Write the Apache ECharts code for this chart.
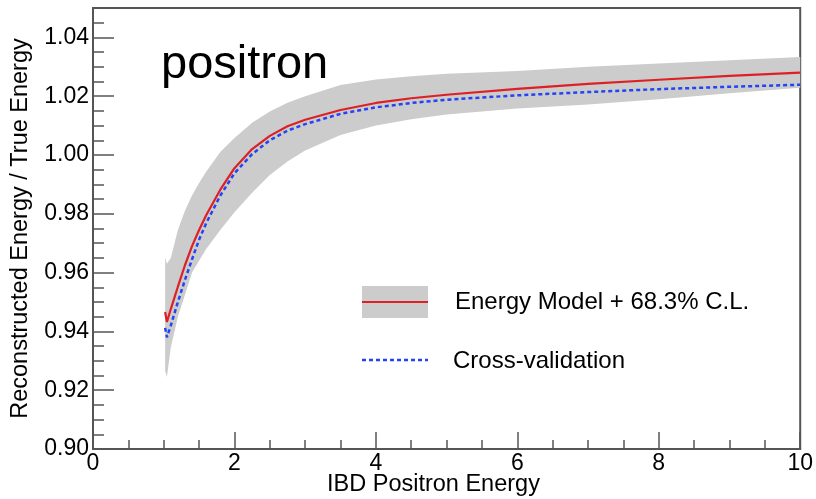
<!DOCTYPE html>
<html>
<head>
<meta charset="utf-8">
<script src="https://cdn.jsdelivr.net/npm/echarts@6/dist/echarts.min.js"></script>
<style>
html,body{margin:0;padding:0;background:#fff;}
#chart{width:816px;height:499px;}
</style>
</head>
<body>
<div id="chart"></div>
<script>
// ---- data ----
const energy = [1.02, 1.045, 1.1, 1.2, 1.3, 1.4, 1.5, 1.6, 1.8, 2.0, 2.25, 2.5, 2.75, 3.0, 3.5, 4.0, 4.5, 5, 6, 7, 8, 9, 10];
const modelRatio = [0.9466, 0.9432, 0.9476, 0.9552, 0.9625, 0.9690, 0.9745, 0.9795, 0.9882, 0.9955, 1.0020, 1.0065, 1.0098, 1.0120, 1.0153, 1.0177, 1.0193, 1.0205, 1.0225, 1.0242, 1.0256, 1.0269, 1.0280];
const crossValRatio = [0.9412, 0.9380, 0.9420, 0.9500, 0.9575, 0.9645, 0.9712, 0.9768, 0.9862, 0.9938, 1.0003, 1.0050, 1.0083, 1.0105, 1.0140, 1.0162, 1.0177, 1.0188, 1.0203, 1.0214, 1.0224, 1.0232, 1.0239];
const bandUpper = [0.9652, 0.9630, 0.9650, 0.9745, 0.9810, 0.9862, 0.9905, 0.9943, 1.0010, 1.0058, 1.0110, 1.0148, 1.0178, 1.0200, 1.0238, 1.0257, 1.0268, 1.0276, 1.0286, 1.0300, 1.0311, 1.0322, 1.0333];
const bandLower = [0.9265, 0.9245, 0.9345, 0.9450, 0.9525, 0.9600, 0.9640, 0.9680, 0.9745, 0.9805, 0.9872, 0.9932, 0.9978, 1.0015, 1.0068, 1.0100, 1.0122, 1.0138, 1.0158, 1.0172, 1.0190, 1.0210, 1.0229];
const xTickLabels = ['0', '2', '4', '6', '8', '10'];
const yTickLabels = ['0.90', '0.92', '0.94', '0.96', '0.98', '1.00', '1.02', '1.04'];

const FONT = 'Liberation Sans, Arial, Helvetica, sans-serif';
const AX = '#555';

const chart = echarts.init(document.getElementById('chart'), null, {renderer: 'canvas'});

function pairs(xs, ys) { return xs.map((x, i) => [x, ys[i]]); }

const option = {
  animation: false,
  backgroundColor: '#fff',
  grid: {left: 93, right: 10, top: 8, bottom: 50, show: true, borderColor: AX, borderWidth: 2, backgroundColor: 'transparent'},
  xAxis: [
    {
      type: 'value', min: 0, max: 10, interval: 2,
      axisLine: {show: true, lineStyle: {color: AX, width: 2}},
      axisTick: {show: true, inside: true, length: 17, lineStyle: {color: AX, width: 1.5}},
      axisLabel: {
        color: '#000', fontFamily: FONT, fontSize: 23, margin: 3,
        formatter: v => { const s = String(Math.round(v)); return xTickLabels.includes(s) && Math.abs(v - Math.round(v)) < 1e-6 ? s : ''; }
      },
      splitLine: {show: false}
    },
    {
      type: 'value', min: 0, max: 10, interval: 0.5, position: 'bottom',
      axisLine: {show: false},
      axisTick: {show: true, inside: true, length: 9, lineStyle: {color: AX, width: 1.5}},
      axisLabel: {show: false},
      splitLine: {show: false}
    }
  ],
  yAxis: [
    {
      type: 'value', min: 0.90, max: 1.05, interval: 0.02,
      name: 'Reconstructed Energy / True Energy',
      nameLocation: 'middle', nameGap: 60, nameRotate: 90,
      nameTextStyle: {color: '#000', fontFamily: FONT, fontSize: 23.5},
      axisLine: {show: true, lineStyle: {color: AX, width: 2}},
      axisTick: {show: true, inside: true, length: 21, lineStyle: {color: AX, width: 1.5}},
      axisLabel: {
        color: '#000', fontFamily: FONT, fontSize: 23, margin: 4,
        formatter: v => { const s = v.toFixed(2); return yTickLabels.includes(s) && Math.abs(v * 50 - Math.round(v * 50)) < 1e-6 ? s : ''; }
      },
      splitLine: {show: false}
    },
    {
      type: 'value', min: 0.90, max: 1.05, interval: 0.005, position: 'left',
      axisLine: {show: false},
      axisTick: {show: true, inside: true, length: 11, lineStyle: {color: AX, width: 1.5}},
      axisLabel: {show: false},
      splitLine: {show: false}
    }
  ],
  series: [
    {
      type: 'custom',
      name: 'band',
      xAxisIndex: 0, yAxisIndex: 0,
      data: pairs(energy, bandUpper),
      z: 1,
      silent: true,
      renderItem: function (params, api) {
        if (params.dataIndex !== 0) return null;
        const pts = [];
        for (let i = 0; i < energy.length; i++) pts.push(api.coord([energy[i], bandUpper[i]]));
        for (let i = energy.length - 1; i >= 0; i--) pts.push(api.coord([energy[i], bandLower[i]]));
        return {type: 'polygon', shape: {points: pts}, style: {fill: '#cccccc', stroke: null}};
      }
    },
    {
      type: 'line', name: 'Energy Model + 68.3% C.L.',
      xAxisIndex: 0, yAxisIndex: 0,
      data: pairs(energy, modelRatio),
      showSymbol: false, smooth: false,
      lineStyle: {color: '#dd2026', width: 2.2},
      z: 3
    },
    {
      type: 'line', name: 'Cross-validation',
      xAxisIndex: 0, yAxisIndex: 0,
      data: pairs(energy, crossValRatio),
      showSymbol: false, smooth: false,
      lineStyle: {color: '#2343f5', width: 2.5, type: [4, 3]},
      z: 4
    }
  ],
  graphic: [
    {type: 'text', left: 161, top: 42, style: {text: 'positron', fontFamily: FONT, fontSize: 47, fill: '#000'}},
    {type: 'rect', shape: {x: 362, y: 286, width: 66, height: 32}, style: {fill: '#cccccc'}},
    {type: 'line', shape: {x1: 362, y1: 302, x2: 428, y2: 302}, style: {stroke: '#dd2026', lineWidth: 2.2}},
    {type: 'line', shape: {x1: 362, y1: 360, x2: 428, y2: 360}, style: {stroke: '#2343f5', lineWidth: 2.5, lineDash: [4, 3]}},
    {type: 'text', x: 455, y: 302, style: {text: 'Energy Model + 68.3% C.L.', fontFamily: FONT, fontSize: 24, fill: '#000', verticalAlign: 'middle'}},
    {type: 'text', x: 453, y: 361, style: {text: 'Cross-validation', fontFamily: FONT, fontSize: 24, fill: '#000', verticalAlign: 'middle'}},
    {type: 'text', x: 327, y: 485, style: {text: 'IBD Positron Energy', fontFamily: FONT, fontSize: 23.5, fill: '#000', verticalAlign: 'middle'}}
  ]
};
chart.setOption(option);
</script>
</body>
</html>
